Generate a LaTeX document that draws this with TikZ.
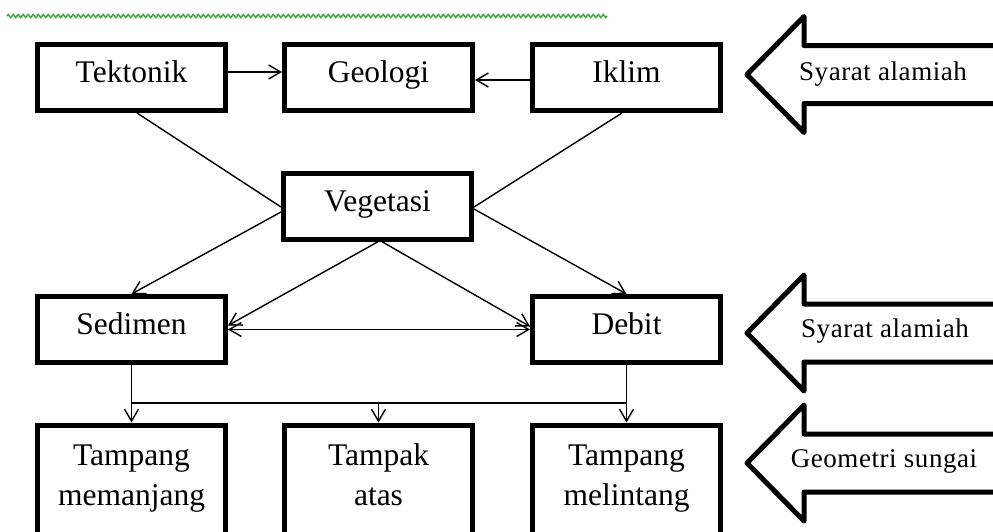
\documentclass[tikz,border=0pt]{standalone}
\usepackage{fontspec}
\setmainfont{Liberation Serif}
\newfontfamily\arrowfont[LetterSpace=2]{Liberation Serif}
\usetikzlibrary{arrows.meta,decorations.pathmorphing,calc}
\definecolor{spellgreen}{RGB}{70,170,70}
\newcommand{\topstrut}{\rule{0pt}{22pt}}
\newcommand{\tallfoot}{\rule[-100pt]{0pt}{100pt}}
\begin{document}
\begin{tikzpicture}[x=1pt,y=-1pt,
  box/.style={draw, line width=5pt, minimum width=188pt, minimum height=66pt, inner sep=0pt,
    font=\fontsize{31.5}{40}\selectfont, text height=20.5pt, text depth=10.5pt},
  lowbox/.style={draw, line width=5pt, minimum width=188pt, inner xsep=0pt, inner ysep=18pt,
    anchor=north, align=center, font=\fontsize{31.5}{40}\selectfont},
  conn/.style={line width=1.4pt},
  vtip/.tip={Straight Barb[length=12pt,width=14pt,line width=1.4pt]},
  arr/.style={conn, -vtip},
  bigarrow/.style={line width=5pt, line join=round},
  arrowtext/.style={font=\arrowfont\fontsize{27}{30}\selectfont, anchor=base, inner sep=0pt}]
\useasboundingbox (0,0) rectangle (993,531);
\clip (0,0) rectangle (993,531);
\fill[white] (0,0) rectangle (993,531);

% spell-check squiggle
\draw[spellgreen, line width=1.6pt, decorate, decoration={zigzag, segment length=5pt, amplitude=1.5pt}] (7,16) -- (607,16);

% boxes
\node[box] (tek) at (131.5,77.5) {Tektonik};
\node[box] (geo) at (378.5,77.5) {Geologi};
\node[box] (ikl) at (626.5,77.5) {Iklim};
\node[box] (veg) at (377.5,206.5) {Vegetasi};
\node[box] (sed) at (131.5,329.5) {Sedimen};
\node[box] (deb) at (626.5,329.5) {Debit};
\node[lowbox] (tm) at (131.5,422.5) {\topstrut Tampang\\memanjang\tallfoot};
\node[lowbox] (ta) at (378.5,422.5) {\topstrut Tampak\\atas\tallfoot};
\node[lowbox] (tl) at (626.5,422.5) {\topstrut Tampang\\melintang\tallfoot};

% big arrows
\foreach \cy in {74.5,333,463}{
  \draw[bigarrow] (747,\cy) -- (804,{\cy-58}) -- (804,{\cy-29}) -- (1000,{\cy-29})
    -- (1000,{\cy+29}) -- (804,{\cy+29}) -- (804,{\cy+58}) -- cycle;
}
\node[arrowtext] (t1) at (883,80) {Syarat alamiah};
\node[arrowtext] (t2) at (885,337) {Syarat alamiah};
\node[arrowtext] (t3) at (884,467) {Geometri sungai};

% connectors
\draw[arr] ($(tek.east)+(0,-5.5)$) -- ($(geo.west)+(0,-5.5)$);
\draw[arr] ($(ikl.west)+(0,2.5)$) -- ($(geo.east)+(0,2.5)$);
\draw[conn] ($(tek.south)+(5.5,0)$) -- ($(veg.west)+(0,0.5)$);
\draw[conn] ($(ikl.south)+(-4.5,0)$) -- ($(veg.east)+(0,0.5)$);
\draw[arr] ($(veg.west)+(0,5.5)$) -- (sed.north);
\draw[arr] ($(veg.east)+(0,2.5)$) -- (deb.north);
\draw[arr] (veg.south) -- ($(sed.east)+(0,-4)$);
\draw[arr] ($(veg.south)+(5,0)$) -- ($(deb.west)+(0,-3)$);
\draw[conn, vtip-vtip] (sed.east) -- (deb.west);

\coordinate (bus) at (378,403);
\draw[arr] (sed.south) -- (tm.north);
\draw[arr] (deb.south) -- (tl.north);
\draw[conn] (sed.south |- bus) -- (deb.south |- bus);
\draw[arr] (ta.north |- bus) -- (ta.north);
\end{tikzpicture}
\end{document}
